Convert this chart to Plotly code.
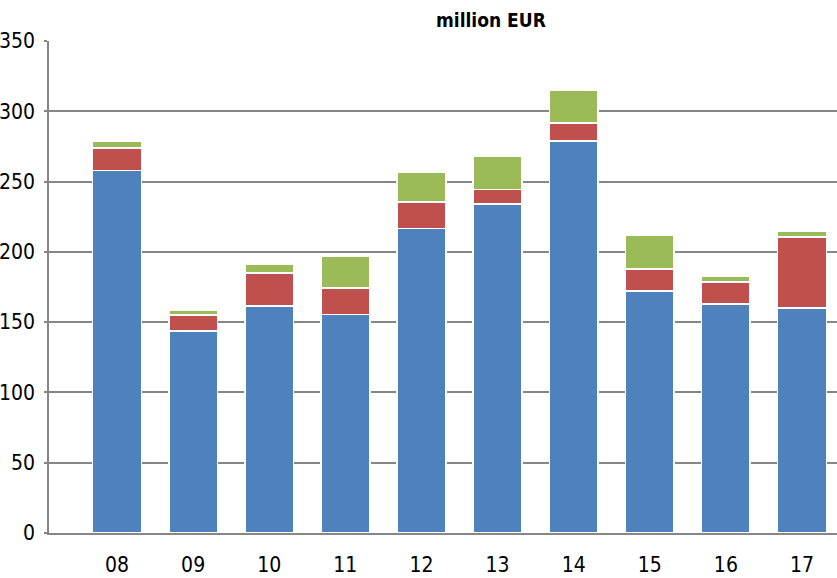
import plotly.graph_objects as go

categories = ["08", "09", "10", "11", "12", "13", "14", "15", "16", "17"]
blue_vals = [258, 143.5, 161.5, 155.5, 216.5, 234, 279, 172, 163, 160]
red_vals = [16, 11.7, 23.5, 19, 19, 10.5, 12.5, 16, 15.5, 50.5]
green_vals = [5, 3.3, 6, 22.5, 21, 23.5, 23.5, 23.5, 4, 4.5]
y_ticks = [0, 50, 100, 150, 200, 250, 300, 350]

FONT = "Liberation Sans Narrow, DejaVu Sans Condensed, Open Sans, sans-serif"
colors = ["#4F81BD", "#C0504D", "#9BBB59"]
fig = go.Figure()
for vals, col in zip([blue_vals, red_vals, green_vals], colors):
    fig.add_trace(go.Bar(
        x=categories, y=vals, width=0.64,
        marker=dict(color=col, line=dict(color="white", width=1.6)),
        showlegend=False,
    ))

fig.update_layout(
    barmode="stack",
    width=837, height=578,
    margin=dict(l=49, r=0, t=41, b=45, autoexpand=False),
    plot_bgcolor="white", paper_bgcolor="white",
    font=dict(family=FONT, size=21, color="black"),
    annotations=[dict(
        text="<b>million EUR</b>", xref="paper", yref="paper",
        x=(491 - 49) / 788, y=1, yshift=21, xanchor="center", yanchor="middle",
        showarrow=False, font=dict(family=FONT, size=19, color="black"),
    )],
)
fig.update_xaxes(
    type="category", range=[-0.894, 9.46], automargin=False,
    showline=True, linecolor="#868686", linewidth=1.5,
    showgrid=False, ticks="", tickfont=dict(size=21), ticklabelstandoff=12,
)
fig.update_yaxes(
    range=[0, 350], tickvals=y_ticks, ticktext=[str(v) for v in y_ticks],
    automargin=False,
    showline=True, linecolor="#868686", linewidth=1.5,
    showgrid=True, gridcolor="#868686", gridwidth=1.5,
    ticks="outside", ticklen=3, tickcolor="#868686", tickwidth=1.5,
    zeroline=False, tickfont=dict(size=21), ticklabelstandoff=5,
)
fig.write_html(
    "out.html",
    config={"displayModeBar": False},
    post_script="document.body.style.margin='0';document.body.style.overflow='hidden';",
)
